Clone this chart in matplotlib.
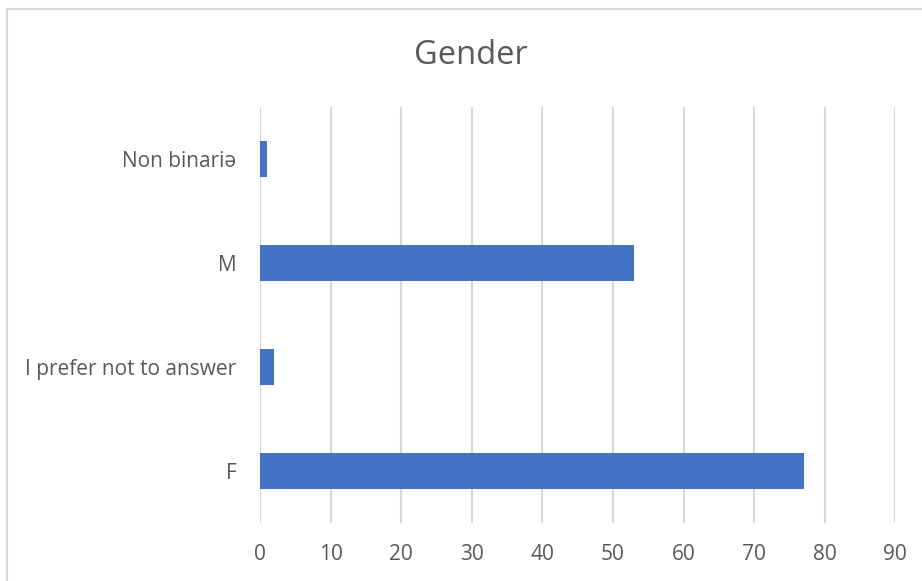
import matplotlib
matplotlib.use("Agg")
import matplotlib.pyplot as plt
from matplotlib.patches import Rectangle

# data
categories = ["F", "I prefer not to answer", "M", "Non binariə"]
counts = [77, 2, 53, 1]
x_ticks = [0, 10, 20, 30, 40, 50, 60, 70, 80, 90]

text_color = "#595959"
bar_color = "#4472C4"
grid_color = "#D9D9D9"

plt.rcParams["font.family"] = ["Open Sans", "DejaVu Sans"]

fig = plt.figure(figsize=(9.22, 5.81), dpi=100)
ax = fig.add_axes([0.282, 0.0998, 0.689, 0.716])

ax.barh(range(len(categories)), counts, height=0.35, color=bar_color, zorder=3)

ax.set_xlim(0, 90)
ax.set_ylim(-0.5, len(categories) - 0.5)
ax.set_xticks(x_ticks)
ax.set_yticks(range(len(categories)))
ax.set_yticklabels(categories)
ax.xaxis.grid(True, color=grid_color, linewidth=1.5, zorder=0)
ax.tick_params(axis="both", length=0, labelsize=15, colors=text_color)
ax.tick_params(axis="x", pad=15)
ax.tick_params(axis="y", pad=17)
for s in ax.spines.values():
    s.set_visible(False)

fig.text(0.511, 0.905, "Gender", ha="center", va="center", fontsize=23.5, color=text_color)

# chart frame (only left/top visible in the crop)
fig.patches.append(Rectangle((7 / 922, -0.1), 1.2, 1 - 9 / 581 + 0.1,
                             transform=fig.transFigure, fill=False,
                             edgecolor=grid_color, linewidth=1.5))

fig.savefig("out.png", dpi=100)
